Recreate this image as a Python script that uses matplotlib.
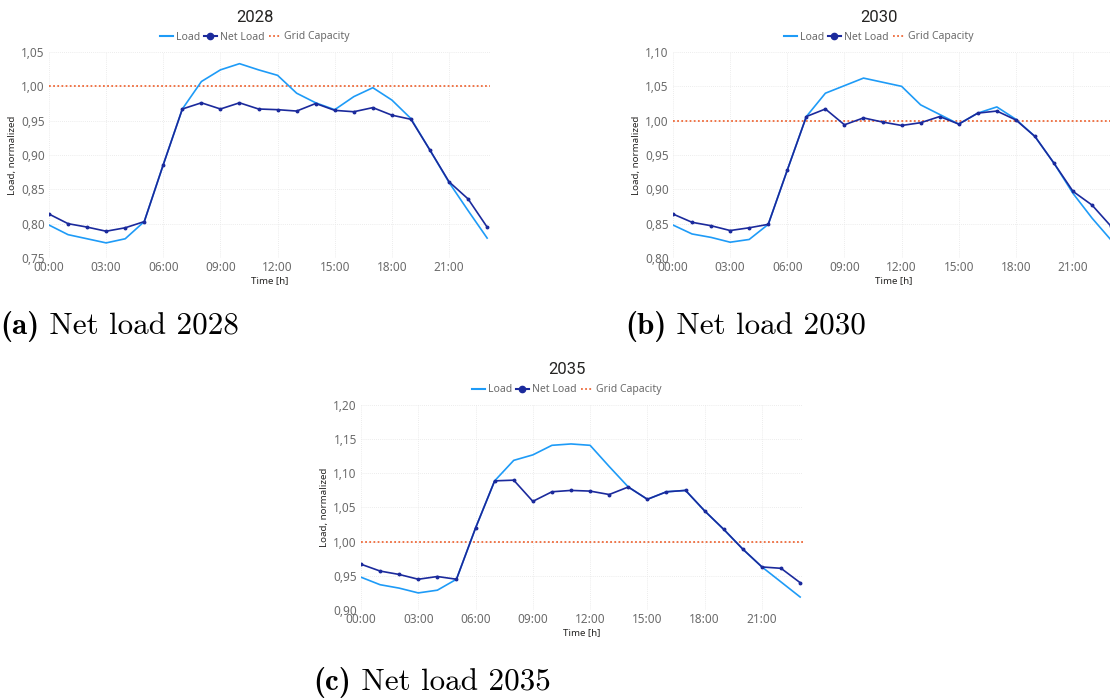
#!/usr/bin/env python3
"""Net load vs load profiles for 2028 / 2030 / 2035 (three Power BI-style panels)."""
import matplotlib

matplotlib.use("Agg")
import matplotlib.pyplot as plt
from matplotlib.lines import Line2D
from matplotlib.ticker import FuncFormatter, MultipleLocator

HOURS = list(range(24))
TICK_HOURS = [0, 3, 6, 9, 12, 15, 18, 21]
TICK_LABELS = ["00:00", "03:00", "06:00", "09:00", "12:00", "15:00", "18:00", "21:00"]

LOAD_2028 = [0.798, 0.784, 0.778, 0.772, 0.778, 0.803, 0.886, 0.967, 1.007, 1.024,
             1.033, 1.024, 1.016, 0.990, 0.976, 0.966, 0.985, 0.998, 0.980, 0.953,
             0.907, 0.860, 0.819, 0.779]
NET_2028 = [0.814, 0.800, 0.795, 0.789, 0.794, 0.803, 0.886, 0.967, 0.976, 0.967,
            0.976, 0.967, 0.966, 0.964, 0.975, 0.965, 0.963, 0.969, 0.958, 0.952,
            0.907, 0.861, 0.836, 0.795]

LOAD_2030 = [0.848, 0.835, 0.830, 0.823, 0.827, 0.849, 0.928, 1.006, 1.040, 1.051,
             1.062, 1.056, 1.050, 1.023, 1.009, 0.995, 1.011, 1.020, 1.002, 0.977,
             0.938, 0.894, 0.858, 0.826]
NET_2030 = [0.864, 0.852, 0.847, 0.840, 0.844, 0.849, 0.928, 1.006, 1.017, 0.994,
            1.004, 0.998, 0.993, 0.997, 1.006, 0.995, 1.011, 1.014, 1.001, 0.977,
            0.938, 0.897, 0.877, 0.846]

LOAD_2035 = [0.948, 0.937, 0.932, 0.925, 0.929, 0.945, 1.020, 1.089, 1.119, 1.127,
             1.141, 1.143, 1.141, 1.110, 1.080, 1.062, 1.073, 1.075, 1.045, 1.018,
             0.989, 0.963, 0.941, 0.919]
NET_2035 = [0.967, 0.957, 0.952, 0.945, 0.949, 0.945, 1.020, 1.089, 1.090, 1.059,
            1.073, 1.075, 1.074, 1.069, 1.080, 1.062, 1.073, 1.075, 1.045, 1.018,
            0.989, 0.963, 0.961, 0.940]

GRID_CAPACITY = 1.0

LOAD_COLOR = "#1E9BF7"
NET_COLOR = "#1B2A9C"
CAP_COLOR = "#EE6A3A"
TICK_COLOR = "#6B6B6B"
TEXT_COLOR = "#252423"

W, H = 1110, 699

# year, load, net, ylim, axes box (left, top, right, bottom) px, title x/y, legend y, caption
PANELS = [
    ("2028", LOAD_2028, NET_2028, (0.75, 1.05), (49, 52, 490, 258), 255, 17, 37,
     ("(a)", " Net load 2028", 0, 327)),
    ("2030", LOAD_2030, NET_2030, (0.80, 1.10), (673, 52, 1114, 258), 879, 17, 37,
     ("(b)", " Net load 2030", 625, 327)),
    ("2035", LOAD_2035, NET_2035, (0.90, 1.20), (361, 405, 803, 610), 567, 370, 390,
     ("(c)", " Net load 2035", 313, 683)),
]

UI_FONT = ["Noto Sans", "DejaVu Sans"]


def comma_fmt(v, _pos):
    return f"{v:.2f}".replace(".", ",")


def main() -> None:
    fig = plt.figure(figsize=(W / 100, H / 100), dpi=100)
    fig.patch.set_facecolor("white")

    for year, load, net, ylim, box, tx, ty, ly, caption in PANELS:
        left, top, right, bottom = box
        ax = fig.add_axes([left / W, 1 - bottom / H, (right - left) / W, (bottom - top) / H])
        ax.plot(HOURS, load, color=LOAD_COLOR, lw=1.2, zorder=3)
        ax.plot(HOURS, net, color=NET_COLOR, lw=1.2, marker="o", ms=1.8, zorder=4)
        ax.axhline(GRID_CAPACITY, color=CAP_COLOR, lw=1.3, ls=(0, (1, 1.3)), zorder=2)

        ax.set_xlim(0, 23.15)
        ax.set_ylim(*ylim)
        ax.set_xticks(TICK_HOURS)
        ax.set_xticklabels(TICK_LABELS)
        ax.yaxis.set_major_locator(MultipleLocator(0.05))
        ax.yaxis.set_major_formatter(FuncFormatter(comma_fmt))
        ax.tick_params(length=0, labelsize=8.5, labelcolor=TICK_COLOR)
        ax.tick_params(axis="x", pad=2)
        ax.tick_params(axis="y", pad=3)
        for lab in ax.get_xticklabels() + ax.get_yticklabels():
            lab.set_family(UI_FONT)
        ax.grid(True, color="#E6E6E6", lw=0.6, ls=(0, (1, 1.5)))
        ax.set_axisbelow(True)
        for sp in ax.spines.values():
            sp.set_visible(False)
        ax.set_xlabel("Time [h]", fontsize=7, color=TEXT_COLOR, family=UI_FONT, labelpad=2)
        ax.set_ylabel("Load, normalized", fontsize=7, color=TEXT_COLOR, family=UI_FONT,
                      labelpad=3)

        fig.text(tx / W, 1 - ty / H, year, ha="center", va="center", fontsize=12,
                 color=TEXT_COLOR, family=["Roboto", "DejaVu Sans"])

        handles = [
            Line2D([], [], color=LOAD_COLOR, lw=1.5),
            Line2D([], [], color=NET_COLOR, lw=1.5, marker="o", ms=4.5),
            Line2D([], [], color=CAP_COLOR, lw=1.3, ls=(0, (1, 1.3))),
        ]
        leg = ax.legend(handles, ["Load", "Net Load", "Grid Capacity"],
                        loc="center", bbox_to_anchor=(tx / W, 1 - ly / H),
                        bbox_transform=fig.transFigure, ncol=3, frameon=False,
                        fontsize=7.5, handlelength=1.2, handletextpad=0.3,
                        columnspacing=0.4, borderpad=0)
        for t in leg.get_texts():
            t.set_color(TICK_COLOR)
            t.set_family(UI_FONT)

        tag, rest, cx, cy = caption
        t1 = fig.text(cx / W, 1 - cy / H, tag, ha="left", va="center", fontsize=22.4,
                      family="cmb10", color="black")
        fig.canvas.draw()
        bb = t1.get_window_extent()
        fig.text(bb.x1 / W, 1 - cy / H, rest, ha="left", va="center", fontsize=22.4,
                 family="cmr10", color="black")

    fig.savefig("out.png", dpi=100)
    plt.close(fig)


if __name__ == "__main__":
    main()
